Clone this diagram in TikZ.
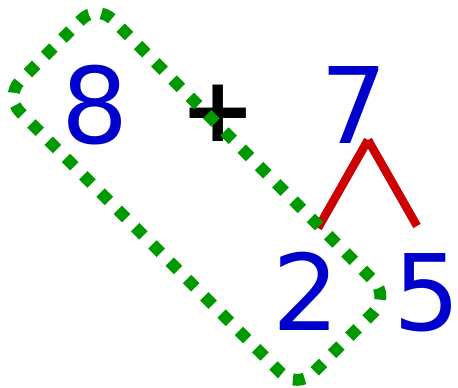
\documentclass[tikz,border=0pt]{standalone}
\usepackage{fontspec}
\setmainfont{DejaVu Sans}
\definecolor{numblue}{RGB}{0,0,204}
\definecolor{boxgreen}{RGB}{0,153,0}
\definecolor{splitred}{RGB}{204,0,0}
\tikzset{
  digit/.style={text=numblue, inner sep=0pt, anchor=base, font=\fontsize{105.6}{110}\selectfont},
  plussign/.style={text=black, inner sep=0pt, font=\bfseries\fontsize{90}{95}\selectfont},
  splitline/.style={draw=splitred, line width=8.5pt, line cap=butt},
  groupbox/.style={draw=boxgreen, line width=11.8pt, line cap=butt, rounded corners=22pt,
                   dash pattern=on 11.8pt off 12.65pt, dash phase=5.9pt}
}
\begin{document}
\begin{tikzpicture}[x=1pt,y=-1pt]
\useasboundingbox (0,0) rectangle (458,388);
\node[digit] (eight) at (95,143) {8};
\node[digit] (seven) at (354,143) {7};
\node[digit] (two) at (306,330) {2};
\node[digit] (five) at (427,330) {5};
\node[plussign] (plus) at (218.7,113) {+};
\coordinate (apex) at (368,140);
\coordinate (leftend) at (318,228);
\coordinate (rightend) at (417,226);
\draw[splitline] (apex) -- (leftend);
\draw[splitline] (apex) -- (rightend);
\draw[groupbox] (50.75,50.25) -- (97,4) -- (389.5,296.5) -- (297,389) -- (4.5,96.5) -- cycle;
\end{tikzpicture}
\end{document}
